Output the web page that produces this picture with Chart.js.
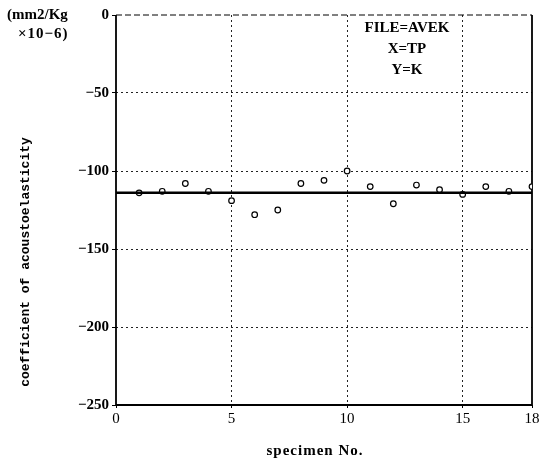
<!DOCTYPE html>
<html>
<head>
<meta charset="utf-8">
<script src="https://cdn.jsdelivr.net/npm/chart.js@4"></script>
<style>
  html, body { margin: 0; padding: 0; background: #fff; }
  #grafico { display: block; }
</style>
</head>
<body>
<canvas id="grafico" width="548" height="468"></canvas>
<script>
// valores
const specimens = [1, 2, 3, 4, 5, 6, 7, 8, 9, 10, 11, 12, 13, 14, 15, 16, 17, 18];
const coefK     = [-114, -113, -108, -113, -119, -128, -125, -108, -106, -100, -110, -121, -109, -112, -115, -110, -113, -110];
const meanK     = -114;
const xTicks    = [0, 5, 10, 15, 18];
const yTicks    = [0, -50, -100, -150, -200, -250];
const annotLines = ['FILE=AVEK', 'X=TP', 'Y=K'];

const SERIF = "'Liberation Serif', 'DejaVu Serif', serif";
const MONO  = "'Liberation Mono', 'DejaVu Sans Mono', monospace";

// moldura, títulos e anotação
const extras = {
  id: 'extras',
  beforeDatasetsDraw(chart) {
    const { ctx, chartArea: a } = chart;
    ctx.save();
    ctx.strokeStyle = '#000';
    ctx.lineWidth = 1.8;
    ctx.beginPath();
    ctx.moveTo(a.left, a.top); ctx.lineTo(a.left, a.bottom);
    ctx.lineTo(a.right, a.bottom); ctx.lineTo(a.right, a.top);
    ctx.stroke();
    ctx.lineWidth = 1;
    ctx.setLineDash([6, 3]);
    ctx.beginPath();
    ctx.moveTo(a.left, a.top); ctx.lineTo(a.right, a.top);
    ctx.stroke();
    ctx.restore();
  },
  afterDraw(chart) {
    const { ctx } = chart;
    ctx.save();
    ctx.fillStyle = '#000';
    ctx.textBaseline = 'middle';

    // unidade
    ctx.font = `bold 15px ${SERIF}`;
    ctx.textAlign = 'left';
    ctx.fillText('(mm2/Kg', 7, 15);
    ctx.letterSpacing = '1px';
    ctx.fillText('×10−6)', 18, 34);
    ctx.letterSpacing = '0px';

    // anotação
    ctx.font = `bold 15px ${SERIF}`;
    ctx.textAlign = 'center';
    annotLines.forEach((t, i) => ctx.fillText(t, 407, 28 + i * 21));

    // título eixo x
    ctx.font = `bold 15px ${SERIF}`;
    ctx.letterSpacing = '1px';
    ctx.fillText('specimen No.', 315, 451);
    ctx.letterSpacing = '0px';

    // título eixo y
    ctx.translate(26, 262);
    ctx.rotate(-Math.PI / 2);
    ctx.font = `bold 13px ${MONO}`;
    ctx.fillText('coefficient of acoustoelasticity', 0, 0);
    ctx.restore();
  }
};

const gridCor = (ends) => (c) => (ends.includes(c.tick.value) ? 'rgba(0,0,0,0)' : '#222');

new Chart(document.getElementById('grafico'), {
  type: 'scatter',
  data: {
    datasets: [
      {
        type: 'line',
        data: [{ x: xTicks[0], y: meanK }, { x: xTicks[xTicks.length - 1], y: meanK }],
        borderColor: '#000',
        borderWidth: 2.5,
        pointRadius: 0,
      },
      {
        data: specimens.map((s, i) => ({ x: s, y: coefK[i] })),
        pointStyle: 'circle',
        pointRadius: 2.8,
        pointBorderWidth: 1.2,
        pointBorderColor: '#000',
        pointBackgroundColor: '#fff',
      },
    ],
  },
  options: {
    responsive: false,
    animation: false,
    events: [],
    layout: { padding: { top: 15, right: 16, left: 0, bottom: 0 } },
    plugins: { legend: { display: false }, tooltip: { enabled: false } },
    scales: {
      x: {
        type: 'linear',
        min: 0,
        max: 18,
        afterBuildTicks: (s) => { s.ticks = xTicks.map(v => ({ value: v })); },
        afterFit: (s) => { s.height = 468 - 405; },
        border: { display: false, dash: [2, 3] },
        grid: {
          color: gridCor([0, 18]),
          tickColor: '#000',
          tickLength: 3,
          lineWidth: 1,
        },
        ticks: {
          color: '#000',
          font: { family: SERIF, size: 15 },
          padding: 2,
          maxRotation: 0,
        },
      },
      y: {
        min: -250,
        max: 0,
        afterBuildTicks: (s) => { s.ticks = yTicks.map(v => ({ value: v })); },
        afterFit: (s) => { s.width = 116; },
        border: { display: false, dash: [2, 3] },
        grid: {
          color: gridCor([0, -250]),
          tickColor: '#000',
          tickLength: 4,
          lineWidth: 1,
        },
        ticks: {
          color: '#000',
          font: { family: SERIF, size: 15, weight: 'bold' },
          padding: 3,
          callback: (v) => String(v).replace('-', '−'),
        },
      },
    },
  },
  plugins: [extras],
});
</script>
</body>
</html>
